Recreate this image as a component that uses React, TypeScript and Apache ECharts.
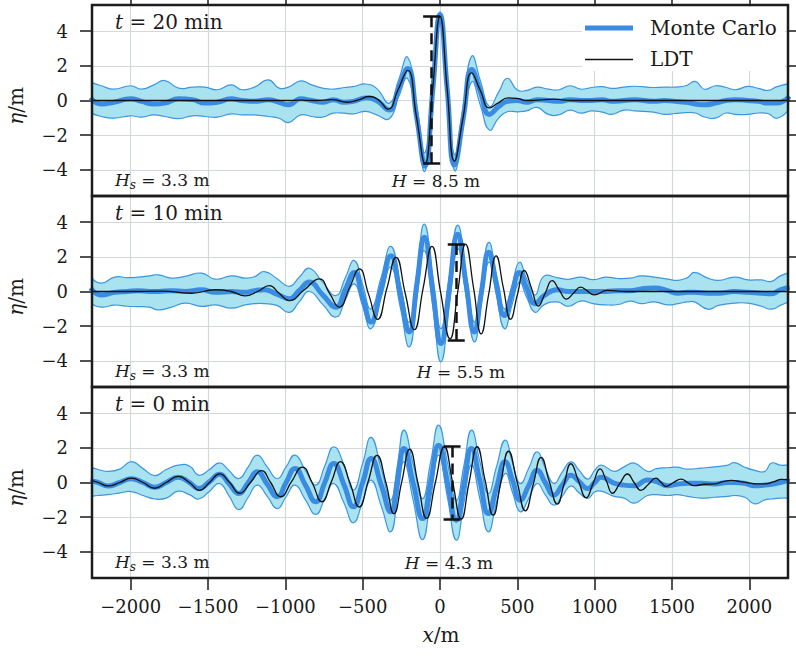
import React, { useEffect, useRef } from 'react';
import * as echarts from 'echarts';

// ---------- tick labels & annotation texts ----------
const xTickValues = [-2000, -1500, -1000, -500, 0, 500, 1000, 1500, 2000];
const yTickValues = [-4, -2, 0, 2, 4];
const panelTimes = ['20', '10', '0'];
const hsValues = ['3.3', '3.3', '3.3'];
const hValues = ['8.5', '5.5', '4.3'];
const hMarkX = [-54, 105, 78];
const hMarkTop = [4.85, 2.73, 2.07];
const hMarkBottom = [-3.64, -2.78, -2.11];
const legendNames = ['Monte Carlo', 'LDT'];

// ---------- panel 1 : t = 20 min ----------
const p1X = [-2260, -2190, -2110, -2000, -1930, -1850, -1780, -1690, -1600, -1520, -1440, -1350, -1280, -1200, -1110, -1040, -980, -900, -830, -760, -690, -620, -560, -480, -410, -328, -269, -209, -151, -97, -47, 0, 47, 93, 151, 205, 262, 319, 380, 435, 500, 560, 628, 700, 770, 840, 910, 980, 1050, 1110, 1190, 1260, 1380, 1450, 1520, 1590, 1650, 1710, 1780, 1850, 1910, 1990, 2060, 2120, 2180, 2260];
const p1Mean = [0.15, -0.2, -0.1, 0.1, -0.05, -0.2, -0.15, 0.1, 0.05, -0.15, -0.1, 0.1, 0.0, -0.05, 0.05, -0.1, -0.25, 0.1, 0.0, -0.1, 0.05, -0.1, -0.05, 0.15, 0.0, -0.55, 0.66, 1.84, -0.96, -3.77, 0.58, 4.94, 0.61, -3.72, -0.97, 1.78, 0.49, -0.8, -0.35, -0.05, 0.0, -0.1, 0.05, 0.0, -0.05, 0.05, 0.0, 0.0, 0.05, -0.05, 0.0, 0.05, -0.05, 0.0, -0.05, -0.1, -0.2, -0.25, -0.15, 0.0, 0.05, 0.0, -0.05, -0.15, -0.15, 0.25];
const p1Upper = [1.04, 0.85, 0.65, 0.85, 0.65, 0.9, 1.15, 0.71, 0.77, 0.77, 0.62, 0.9, 0.62, 0.77, 1.19, 0.71, 0.77, 1.13, 0.9, 0.71, 0.65, 0.75, 0.8, 0.95, 0.7, -0.15, 1.15, 2.49, -0.25, -3.0, 1.05, 5.1, 1.0, -3.1, -0.27, 2.55, 1.11, -0.33, 0.5, 1.28, 0.6, 0.58, 0.77, 0.65, 0.62, 0.85, 0.65, 0.75, 0.8, 0.7, 0.77, 0.82, 0.75, 0.77, 0.77, 0.85, 1.1, 0.65, 0.85, 0.75, 0.62, 0.81, 0.7, 0.58, 0.8, 0.95];
const p1Lower = [-0.69, -0.92, -1.02, -0.88, -0.96, -0.83, -0.92, -1.04, -0.88, -0.92, -0.96, -0.77, -0.83, -0.83, -0.92, -1.02, -1.27, -0.83, -0.92, -0.96, -0.73, -0.73, -0.77, -0.63, -0.83, -1.05, 0.18, 1.26, -1.4, -4.06, 0.25, 4.56, 0.27, -4.02, -1.47, 1.07, -0.3, -1.7, -1.0, -0.65, -0.65, -0.6, -0.4, -0.8, -0.82, -0.55, -0.73, -0.6, -0.67, -0.8, -0.55, -0.6, -0.67, -0.8, -0.75, -0.7, -0.72, -0.95, -1.02, -0.72, -0.8, -0.8, -0.72, -0.75, -1.02, -0.45];
const p1LdtX = [-2260, -1800, -1400, -1000, -900, -800, -700, -600, -520, -460, -400, -335, -272, -209, -153, -97, -48, 0, 47, 93, 150, 205, 262, 319, 375, 440, 500, 560, 630, 736, 850, 1000, 1300, 1600, 1900, 2260];
const p1Ldt = [0, 0, 0, 0, 0.02, 0, 0.05, -0.1, 0.05, 0.23, 0.05, -0.5, 0.6, 1.74, -0.9, -3.64, 0.6, 4.85, 0.6, -3.49, -0.95, 1.59, 0.55, -0.42, -0.15, 0.15, 0.12, 0.0, 0.02, 0.08, 0, 0, 0, 0, 0, 0];

// ---------- panel 2 : t = 10 min ----------
const p2X = [-2260, -2190, -2104, -2020, -1952, -1880, -1822, -1736, -1649, -1541, -1454, -1346, -1260, -1200, -1136, -1055, -974, -910, -845, -760, -672, -613, -554, -500, -446, -381, -317, -257, -198, -150, -101, -47, 6, 60, 114, 168, 222, 268, 315, 365, 416, 465, 513, 560, 615, 671, 758, 830, 909, 990, 1070, 1150, 1230, 1300, 1386, 1472, 1540, 1600, 1645, 1732, 1800, 1905, 1992, 2078, 2143, 2200, 2260];
const p2Mean = [0.2, -0.2, -0.05, 0.0, 0.05, 0.0, 0.0, 0.05, 0.0, 0.1, -0.05, 0.0, -0.05, 0.05, 0.1, -0.15, -0.42, 0.06, 0.54, -0.18, -0.9, 0.1, 1.1, -0.33, -1.76, 0.15, 2.06, -0.14, -2.33, 0.4, 3.12, 0.06, -3.0, 0.15, 3.3, 0.48, -2.33, -0.03, 2.26, 0.44, -1.38, -0.14, 1.1, 0.2, -0.7, -0.25, 0.1, 0.0, 0.0, 0.0, 0.0, 0.05, 0.05, 0.15, 0.2, 0.05, -0.1, -0.05, -0.05, -0.1, -0.1, 0.0, -0.05, -0.1, -0.13, 0.1, 0.25];
const p2Upper = [0.82, 0.48, 0.83, 0.8, 0.83, 0.9, 0.96, 0.77, 0.87, 1.06, 0.71, 0.9, 0.77, 0.85, 1.15, 0.75, 0.3, 0.82, 1.34, 0.55, -0.23, 0.78, 1.78, 0.39, -1.0, 0.8, 2.6, 0.42, -1.76, 1.06, 3.88, 0.87, -2.14, 0.84, 3.82, 1.03, -1.76, 0.53, 2.83, 0.91, -1.0, 0.34, 1.68, 0.74, -0.2, 0.87, 0.8, 0.7, 0.83, 0.68, 0.83, 0.75, 0.77, 0.9, 0.83, 0.71, 0.64, 0.8, 1.1, 0.77, 0.64, 0.83, 0.67, 0.67, 0.58, 0.9, 1.06];
const p2Lower = [-0.67, -0.9, -0.78, -0.85, -0.87, -0.9, -1.06, -0.9, -0.67, -0.86, -0.77, -0.96, -0.77, -0.7, -0.7, -0.8, -1.2, -0.6, 0.0, -0.73, -1.47, -0.5, 0.44, -0.85, -2.14, -0.37, 1.4, -0.9, -3.19, -0.42, 2.35, -0.85, -4.05, -0.8, 2.45, -0.22, -2.9, -0.61, 1.68, -0.23, -2.14, -0.8, 0.54, -0.33, -1.2, -0.77, -0.6, -0.85, -0.55, -0.7, -0.77, -0.75, -0.55, -0.7, -0.6, -0.77, -0.7, -0.6, -0.6, -1.02, -0.8, -0.67, -0.67, -0.85, -1.02, -0.8, -0.55];
const p2LdtX = [-2260, -2000, -1800, -1606, -1454, -1350, -1260, -1180, -1103, -1040, -974, -877, -780, -715, -651, -586, -521, -462, -403, -343, -284, -225, -166, -109, -52, 4, 65, 115, 165, 218, 266, 314, 363, 410, 456, 500, 545, 592, 636, 680, 725, 770, 818, 863, 909, 950, 996, 1083, 1200, 1500, 1800, 2100, 2260];
const p2Ldt = [0, 0, 0.02, -0.1, 0.1, 0, -0.25, 0, 0.34, -0.1, -0.52, 0.1, 0.73, -0.1, -0.9, 0.2, 1.3, -0.15, -1.6, 0.2, 1.97, -0.1, -2.2, 0.2, 2.6, -0.05, -2.72, 0, 2.73, 0.15, -2.44, -0.2, 2.05, 0.2, -1.6, -0.2, 1.21, 0.18, -0.84, -0.1, 0.63, 0.1, -0.44, -0.1, 0.25, 0.05, -0.19, 0.06, 0, 0, 0, 0, 0];

// ---------- panel 3 : t = 0 min ----------
const p3X = [-2260, -2210, -2147, -2070, -1996, -1920, -1844, -1770, -1693, -1620, -1560, -1490, -1425, -1365, -1301, -1240, -1182, -1117, -1052, -995, -937, -870, -803, -745, -687, -620, -560, -500, -445, -380, -318, -275, -233, -173, -113, -60, -9, 48, 105, 155, 203, 258, 312, 365, 421, 470, 519, 575, 628, 680, 737, 790, 846, 900, 955, 1000, 1042, 1126, 1190, 1256, 1342, 1400, 1472, 1530, 1602, 1689, 1775, 1862, 1905, 1970, 2035, 2100, 2143, 2200, 2260];
const p3Mean = [0.1, 0.0, -0.2, 0.0, 0.22, 0.0, -0.28, 0.0, 0.3, 0.0, -0.35, 0.05, 0.48, -0.05, -0.63, 0.0, 0.62, -0.1, -0.82, 0.0, 0.81, -0.15, -1.11, 0.0, 1.1, -0.15, -1.4, 0.0, 1.38, -0.15, -1.69, 0.1, 1.96, -0.05, -2.08, 0.05, 2.15, 0.0, -2.17, -0.1, 1.96, 0.1, -1.79, -0.3, 1.19, 0.1, -1.02, -0.15, 0.71, 0.0, -0.73, -0.15, 0.42, 0.05, -0.35, 0.0, 0.3, -0.04, -0.15, -0.19, 0.15, 0.05, -0.19, -0.1, -0.05, -0.05, -0.08, 0.0, 0.0, -0.05, -0.19, -0.15, -0.1, 0.0, 0.12];
const p3Upper = [0.88, 0.75, 0.64, 0.77, 1.2, 0.8, 0.4, 0.75, 1.0, 0.95, 0.42, 0.75, 1.13, 0.7, 0.23, 0.9, 1.58, 0.9, 0.23, 0.9, 1.58, 0.7, -0.15, 0.95, 2.06, 1.0, -0.44, 1.1, 2.6, 0.8, -1.01, 1.0, 3.02, 1.05, -0.93, 1.2, 3.3, 1.15, -1.02, 1.0, 3.02, 1.2, -0.63, 0.9, 2.44, 1.1, -0.06, 0.85, 1.77, 0.85, -0.06, 0.6, 1.19, 0.7, 0.2, 0.7, 1.0, 0.64, 0.9, 1.12, 0.64, 0.8, 0.85, 0.88, 0.77, 0.83, 0.9, 1.0, 1.15, 0.88, 0.7, 0.64, 1.12, 1.0, 1.02];
const p3Lower = [-0.8, -0.75, -0.7, -0.6, -0.52, -0.75, -0.95, -0.9, -0.5, -0.7, -0.95, -0.5, -0.06, -0.75, -1.56, -0.85, -0.15, -0.8, -1.5, -0.82, -0.15, -1.0, -1.84, -0.95, -0.06, -1.2, -2.32, -1.1, 0.14, -1.35, -2.84, -0.85, 1.19, -1.05, -3.29, -0.9, 1.58, -0.85, -3.32, -1.15, 1.0, -0.95, -2.84, -1.15, 0.52, -0.6, -1.69, -0.9, -0.06, -0.7, -1.3, -0.8, -0.2, -0.6, -0.92, -0.55, -0.5, -0.8, -0.9, -1.19, -0.75, -0.7, -0.75, -0.7, -0.8, -0.9, -0.85, -0.8, -0.75, -0.85, -1.23, -1.0, -0.95, -0.9, -0.9];
const p3LdtX = [-2260, -2210, -2147, -2070, -1996, -1920, -1844, -1770, -1693, -1620, -1555, -1490, -1425, -1360, -1295, -1225, -1154, -1095, -1030, -960, -890, -827, -764, -702, -644, -583, -522, -465, -407, -350, -298, -247, -196, -142, -87, -30, 28, 82, 137, 188, 240, 292, 344, 393, 443, 497, 552, 603, 654, 705, 759, 802, 846, 895, 945, 990, 1035, 1075, 1115, 1163, 1212, 1255, 1299, 1348, 1396, 1430, 1461, 1510, 1559, 1600, 1645, 1710, 1775, 1830, 1883, 1940, 1992, 2050, 2100, 2160, 2208, 2260];
const p3Ldt = [0.15, 0.0, -0.2, 0.0, 0.25, 0.0, -0.33, 0.0, 0.35, 0.0, -0.45, 0.0, 0.5, 0.0, -0.62, 0.0, 0.68, 0.0, -0.82, 0.05, 0.89, 0.0, -1.11, 0.05, 1.2, 0.0, -1.41, 0.05, 1.56, 0.0, -1.8, 0.05, 1.92, -0.05, -2.07, 0.0, 2.06, 0.0, -2.11, 0.0, 2.06, 0.1, -1.88, 0.0, 1.8, 0.1, -1.63, -0.1, 1.45, 0.1, -1.24, -0.1, 1.08, 0.1, -0.88, -0.05, 0.79, 0.1, -0.62, -0.05, 0.49, 0.0, -0.45, -0.1, 0.25, 0.0, -0.22, 0.0, 0.2, 0.0, -0.18, -0.1, -0.08, 0.05, 0.12, 0.05, -0.02, -0.08, -0.08, 0.05, 0.18, 0.15];

// ---------- styles & layout ----------
const FONT = '"DejaVu Serif", "Liberation Serif", serif';
const TEXT = '#1a1a1a';
const MEAN_COLOR = '#3a8be2';
const EDGE_COLOR = '#3d96e2';
const FILL_COLOR = '#a9e3ef';
const GRID_LINE = '#d3d9db';
const SMOOTH = 0.5;
const LAYOUT = {
  left: 92,
  width: 696,
  height: 191,
  tops: [5, 196, 387],
  labelX: 115,
  hLabelX: [436, 461, 449],
  capHalf: 55,
};

const fmt = (v: number) => (v < 0 ? '\u2212' + Math.abs(v) : String(v));

function richStyles(size: number) {
  return {
    i: { fontFamily: FONT, fontSize: size, fontStyle: 'italic', fill: TEXT, lineHeight: size + 4 },
    n: { fontFamily: FONT, fontSize: size, fill: TEXT, lineHeight: size + 4 },
    s: { fontFamily: FONT, fontSize: Math.round(size * 0.7), fontStyle: 'italic', fill: TEXT, lineHeight: Math.round(size * 0.7), verticalAlign: 'bottom' },
  };
}

export default function App() {
  const ref = useRef<HTMLDivElement>(null);

  useEffect(() => {
    if (!ref.current) return;
    const chart = echarts.init(ref.current, null, { renderer: 'svg' });

    const panels = [
      { x: p1X, mean: p1Mean, up: p1Upper, lo: p1Lower, lx: p1LdtX, ly: p1Ldt },
      { x: p2X, mean: p2Mean, up: p2Upper, lo: p2Lower, lx: p2LdtX, ly: p2Ldt },
      { x: p3X, mean: p3Mean, up: p3Upper, lo: p3Lower, lx: p3LdtX, ly: p3Ldt },
    ];

    const tickLine = { color: TEXT, width: 1.5 };
    const labelStyle = { fontFamily: FONT, fontSize: 18, color: TEXT };
    const noLine = { show: false, onZero: false };

    const grid = LAYOUT.tops.map((t) => ({
      left: LAYOUT.left,
      top: t,
      width: LAYOUT.width,
      height: LAYOUT.height,
      show: true,
      borderColor: '#1c1c1c',
      borderWidth: 2.5,
      backgroundColor: 'transparent',
      z: 10,
      containLabel: false,
      outerBoundsMode: 'none',
    }));

    const xAxis: any[] = [0, 1, 2].map((i) => ({
      gridIndex: i,
      type: 'value',
      min: -2250,
      max: 2250,
      splitNumber: 9,
      position: 'bottom',
      axisLine: noLine,
      axisTick: { show: i === 2, customValues: xTickValues, length: 12, lineStyle: tickLine },
      axisLabel: { show: i === 2, customValues: xTickValues, formatter: fmt, margin: 19, ...labelStyle },
      splitLine: { show: true, lineStyle: { color: GRID_LINE, width: 1.2 } },
    }));
    xAxis.push({
      gridIndex: 0,
      type: 'value',
      min: -2250,
      max: 2250,
      splitNumber: 9,
      position: 'top',
      axisLine: noLine,
      axisTick: { show: true, customValues: xTickValues, length: 12, lineStyle: tickLine },
      axisLabel: { show: false },
      splitLine: { show: false },
    });

    const yAxis: any[] = [];
    [0, 1, 2].forEach((i) => {
      yAxis.push({
        gridIndex: i,
        type: 'value',
        min: -5.5,
        max: 5.5,
        splitNumber: 5,
        position: 'left',
        axisLine: noLine,
        axisTick: { show: true, customValues: yTickValues, length: 12, lineStyle: tickLine },
        axisLabel: { show: true, customValues: yTickValues, formatter: fmt, margin: 24, ...labelStyle },
        splitLine: { show: true, lineStyle: { color: GRID_LINE, width: 1.2 } },
      });
    });
    [0, 1, 2].forEach((i) => {
      yAxis.push({
        gridIndex: i,
        type: 'value',
        min: -5.5,
        max: 5.5,
        splitNumber: 5,
        position: 'right',
        axisLine: noLine,
        axisTick: { show: true, customValues: yTickValues, length: 12, lineStyle: tickLine },
        axisLabel: { show: false },
        splitLine: { show: false },
      });
    });

    const series: any[] = [];
    panels.forEach((p, i) => {
      const common = {
        type: 'line',
        xAxisIndex: i,
        yAxisIndex: i,
        smooth: SMOOTH,
        symbol: 'none',
        showSymbol: false,
        silent: true,
        animation: false,
      };
      // confidence band: fill + edges, mapped through the axes
      series.push({
        type: 'custom',
        name: 'band-' + i,
        xAxisIndex: i,
        yAxisIndex: i,
        silent: true,
        animation: false,
        clip: true,
        z: 2,
        data: [[p.x[0], p.up[0]]],
        renderItem: (_params: any, api: any) => {
          const top = p.x.map((v, k) => api.coord([v, p.up[k]]));
          const bot = p.x.map((v, k) => api.coord([v, p.lo[k]]));
          const poly = top.concat(bot.slice().reverse());
          return {
            type: 'group',
            children: [
              {
                type: 'polygon',
                shape: { points: poly, smooth: SMOOTH },
                style: { fill: FILL_COLOR, stroke: null },
              },
              {
                type: 'polyline',
                shape: { points: top, smooth: SMOOTH },
                style: { fill: null, stroke: EDGE_COLOR, lineWidth: 1.2 },
              },
              {
                type: 'polyline',
                shape: { points: bot, smooth: SMOOTH },
                style: { fill: null, stroke: EDGE_COLOR, lineWidth: 1.2 },
              },
            ],
          };
        },
      });
      series.push({
        ...common,
        name: legendNames[0],
        data: p.x.map((v, k) => [v, p.mean[k]]),
        lineStyle: { color: MEAN_COLOR, width: 5 },
        z: 4,
      });
      const cx = hMarkX[i];
      const c = LAYOUT.capHalf;
      series.push({
        ...common,
        name: legendNames[1],
        data: p.lx.map((v, k) => [v, p.ly[k]]),
        lineStyle: { color: '#111111', width: 1.3 },
        z: 5,
        markLine: {
          silent: true,
          animation: false,
          symbol: ['none', 'none'],
          label: { show: false },
          emphasis: { disabled: true },
          data: [
            [
              { coord: [cx, hMarkTop[i]], lineStyle: { color: '#111111', width: 2.5, type: [11, 6] } },
              { coord: [cx, hMarkBottom[i]] },
            ],
            [
              { coord: [cx - c, hMarkTop[i]], lineStyle: { color: '#111111', width: 2.5, type: 'solid' } },
              { coord: [cx + c, hMarkTop[i]] },
            ],
            [
              { coord: [cx - c, hMarkBottom[i]], lineStyle: { color: '#111111', width: 2.5, type: 'solid' } },
              { coord: [cx + c, hMarkBottom[i]] },
            ],
          ],
        },
      });
    });

    const graphic: any[] = [];
    LAYOUT.tops.forEach((t, i) => {
      graphic.push({
        type: 'text',
        x: LAYOUT.labelX,
        y: t + 16.5,
        z: 50,
        style: {
          text: `{i|t}{n| = ${panelTimes[i]} min}`,
          rich: richStyles(20),
          fontFamily: FONT,
          fontSize: 20,
          align: 'left',
          verticalAlign: 'middle',
        },
      });
      graphic.push({
        type: 'text',
        x: LAYOUT.labelX,
        y: t + 175,
        z: 50,
        style: {
          text: `{i|H}{s|s}{n| = ${hsValues[i]} m}`,
          rich: richStyles(17),
          fontFamily: FONT,
          fontSize: 17,
          align: 'left',
          verticalAlign: 'middle',
        },
      });
      graphic.push({
        type: 'text',
        x: LAYOUT.hLabelX[i],
        y: t + 176,
        z: 50,
        style: {
          text: `{i|H}{n| = ${hValues[i]} m}`,
          rich: richStyles(17),
          fontFamily: FONT,
          fontSize: 17,
          align: 'center',
          verticalAlign: 'middle',
        },
      });
      graphic.push({
        type: 'text',
        x: 16,
        y: t + 101,
        rotation: Math.PI / 2,
        z: 50,
        style: {
          text: '{i|η}{n|/m}',
          rich: richStyles(20),
          fontFamily: FONT,
          fontSize: 20,
          align: 'center',
          verticalAlign: 'middle',
        },
      });
    });
    graphic.push({
      type: 'text',
      x: 441,
      y: 635,
      z: 50,
      style: {
        text: '{i|x}{n|/m}',
        rich: richStyles(20),
        fontFamily: FONT,
        fontSize: 20,
        align: 'center',
        verticalAlign: 'middle',
      },
    });
    // legend
    graphic.push({
      type: 'rect',
      z: 40,
      shape: { x: 582, y: 7, width: 203, height: 64 },
      style: { fill: '#ffffff', stroke: null },
    });
    graphic.push({
      type: 'line',
      z: 45,
      shape: { x1: 585, y1: 28, x2: 633, y2: 28 },
      style: { stroke: MEAN_COLOR, lineWidth: 5 },
    });
    graphic.push({
      type: 'line',
      z: 45,
      shape: { x1: 585, y1: 59.5, x2: 633, y2: 59.5 },
      style: { stroke: '#111111', lineWidth: 1.4 },
    });
    graphic.push({
      type: 'text',
      x: 650,
      y: 27.5,
      z: 50,
      style: { text: legendNames[0], fontFamily: FONT, fontSize: 20, fill: TEXT, align: 'left', verticalAlign: 'middle' },
    });
    graphic.push({
      type: 'text',
      x: 650,
      y: 59,
      z: 50,
      style: { text: legendNames[1], fontFamily: FONT, fontSize: 20, fill: TEXT, align: 'left', verticalAlign: 'middle' },
    });

    chart.setOption({
      animation: false,
      backgroundColor: '#ffffff',
      grid,
      xAxis,
      yAxis,
      series,
      graphic,
    });

    return () => chart.dispose();
  }, []);

  return (
    <div
      ref={ref}
      style={{ position: 'fixed', left: 0, top: 0, width: 796, height: 656, background: '#ffffff' }}
    />
  );
}
